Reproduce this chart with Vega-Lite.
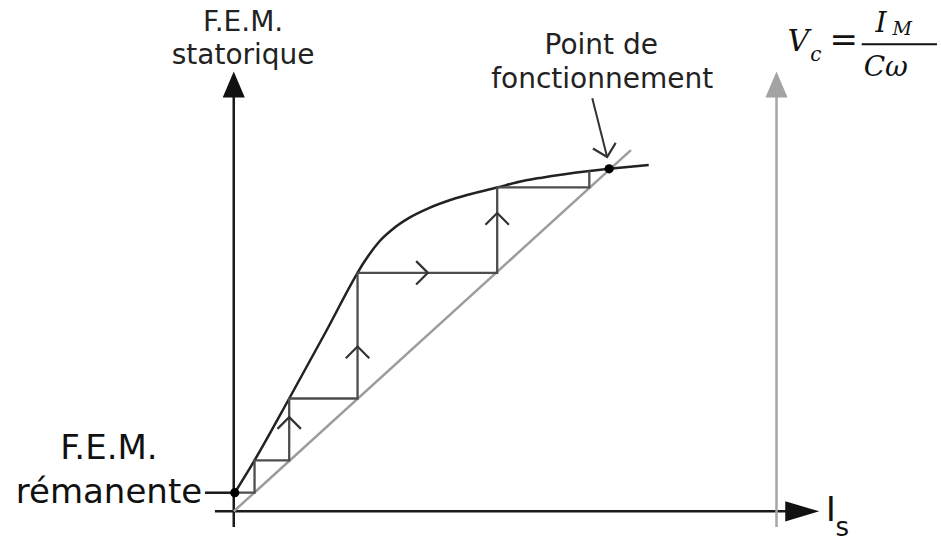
{
  "$schema": "https://vega.github.io/schema/vega-lite/v6.json",
  "width": 941,
  "height": 541,
  "autosize": {"type": "fit", "contains": "padding"},
  "padding": 0,
  "background": "white",
  "config": {"view": {"stroke": null}},
  "encoding": {
    "x": {"field": "x", "type": "quantitative", "scale": {"domain": [-23.6, 70.5], "nice": false, "zero": false}, "axis": null},
    "y": {"field": "y", "type": "quantitative", "scale": {"domain": [-2.0, 52.1], "nice": false, "zero": false}, "axis": null}
  },
  "resolve": {"scale": {"shape": "independent", "color": "independent"}},
  "layer": [
    {
      "data": {"values": [
        {"trait": "ordonnee", "ordre": 1, "x": 0, "y": -1.6},
        {"trait": "ordonnee", "ordre": 2, "x": 0, "y": 42.6},
        {"trait": "abscisse", "ordre": 1, "x": -1.9, "y": 0},
        {"trait": "abscisse", "ordre": 2, "x": 55.9, "y": 0},
        {"trait": "repere", "ordre": 1, "x": -2.9, "y": 1.9},
        {"trait": "repere", "ordre": 2, "x": 0, "y": 1.9}
      ]},
      "mark": {"type": "line", "color": "#1a1a1a", "strokeWidth": 2.5},
      "encoding": {"detail": {"field": "trait"}, "order": {"field": "ordre", "type": "quantitative"}}
    },
    {
      "data": {"values": [
        {"ordre": 1, "x": 54.8, "y": -1.6},
        {"ordre": 2, "x": 54.8, "y": 42.5}
      ]},
      "mark": {"type": "line", "color": "#a6a6a6", "strokeWidth": 2.5},
      "encoding": {"order": {"field": "ordre", "type": "quantitative"}}
    },
    {
      "data": {"values": [
        {"x": 0, "y": 0},
        {"x": 40.1, "y": 36.8}
      ]},
      "mark": {"type": "line", "color": "#9c9c9c", "strokeWidth": 2.5},
      "encoding": {}
    },
    {
      "data": {"values": [
        {"x": 0.1, "y": 1.9},
        {"x": 2.1, "y": 5.2},
        {"x": 5.6, "y": 11.5},
        {"x": 9.3, "y": 18.3},
        {"x": 12.5, "y": 24.3},
        {"x": 13.1, "y": 25.3},
        {"x": 13.7, "y": 26.2},
        {"x": 14.7, "y": 27.5},
        {"x": 16.1, "y": 28.8},
        {"x": 17.7, "y": 29.9},
        {"x": 19.7, "y": 30.9},
        {"x": 22.4, "y": 31.9},
        {"x": 26.6, "y": 33.0},
        {"x": 29.4, "y": 33.7},
        {"x": 31.1, "y": 34.0},
        {"x": 35.7, "y": 34.65},
        {"x": 37.9, "y": 34.9},
        {"x": 41.9, "y": 35.3}
      ]},
      "mark": {"type": "line", "color": "#222222", "strokeWidth": 2.5, "interpolate": "monotone"},
      "encoding": {}
    },
    {
      "data": {"values": [
        {"etape": 1, "x": 0.1, "y": 1.9},
        {"etape": 2, "x": 2.1, "y": 1.9},
        {"etape": 3, "x": 2.1, "y": 5.2},
        {"etape": 4, "x": 5.6, "y": 5.2},
        {"etape": 5, "x": 5.6, "y": 11.5},
        {"etape": 6, "x": 12.5, "y": 11.5},
        {"etape": 7, "x": 12.5, "y": 24.3},
        {"etape": 8, "x": 26.6, "y": 24.3},
        {"etape": 9, "x": 26.6, "y": 33.0},
        {"etape": 10, "x": 35.9, "y": 33.0},
        {"etape": 11, "x": 35.9, "y": 34.7}
      ]},
      "mark": {"type": "line", "color": "#4d4d4d", "strokeWidth": 2.3},
      "encoding": {"order": {"field": "etape", "type": "quantitative"}}
    },
    {
      "data": {"values": [
        {"ordre": 1, "x": 36.2, "y": 42.1},
        {"ordre": 2, "x": 37.7, "y": 36.1}
      ]},
      "mark": {"type": "line", "color": "#333333", "strokeWidth": 2},
      "encoding": {"order": {"field": "ordre", "type": "quantitative"}}
    },
    {
      "data": {"values": [
        {"sens": "haut", "x": 5.6, "y": 9.6},
        {"sens": "haut", "x": 12.5, "y": 16.8},
        {"sens": "haut", "x": 26.6, "y": 30.4},
        {"sens": "droite", "x": 19.6, "y": 24.3},
        {"sens": "bas", "x": 37.7, "y": 36.1}
      ]},
      "mark": {"type": "point", "filled": false, "color": "#333333", "strokeWidth": 2.2, "size": 550, "opacity": 1},
      "encoding": {
        "shape": {"field": "sens", "type": "nominal", "legend": null,
          "scale": {"domain": ["haut", "droite", "bas"], "range": ["M-1,1L0,0L1,1", "M-1,-1L0,0L-1,1", "M-1.21,-0.73L0,0L0.73,-1.21"]}}
      }
    },
    {
      "data": {"values": [
        {"forme": "haut", "axe": "principal", "x": 0, "y": 43.5},
        {"forme": "droite", "axe": "principal", "x": 57.4, "y": 0},
        {"forme": "haut", "axe": "secondaire", "x": 54.8, "y": 43.5}
      ]},
      "mark": {"type": "point", "filled": true, "size": 676, "opacity": 1, "strokeWidth": 0},
      "encoding": {
        "shape": {"field": "forme", "type": "nominal", "legend": null,
          "scale": {"domain": ["haut", "droite"], "range": ["M0,-1L0.85,1L-0.85,1Z", "M1.31,0L-1.31,0.77L-1.31,-0.77Z"]}},
        "color": {"field": "axe", "type": "nominal", "legend": null,
          "scale": {"domain": ["principal", "secondaire"], "range": ["#111111", "#a3a3a3"]}}
      }
    },
    {
      "data": {"values": [
        {"point": "remanent", "x": 0.1, "y": 1.9},
        {"point": "fonctionnement", "x": 37.9, "y": 34.9}
      ]},
      "mark": {"type": "point", "shape": "circle", "filled": true, "size": 85, "color": "#000000", "opacity": 1},
      "encoding": {}
    },
    {
      "data": {"values": [
        {"texte": "F.E.M.", "x": 0.95, "y": 48.9},
        {"texte": "statorique", "x": 0.95, "y": 45.6},
        {"texte": "Point de", "x": 37.1, "y": 46.6},
        {"texte": "fonctionnement", "x": 37.2, "y": 43.1}
      ]},
      "mark": {"type": "text", "font": "DejaVu Sans", "fontSize": 28, "align": "center", "baseline": "alphabetic", "color": "#222222"},
      "encoding": {"text": {"field": "texte"}}
    },
    {
      "data": {"values": [
        {"texte": "F.E.M.", "x": -12.6, "y": 5.3},
        {"texte": "rémanente", "x": -12.6, "y": 0.9}
      ]},
      "mark": {"type": "text", "font": "DejaVu Sans", "fontSize": 34, "align": "center", "baseline": "alphabetic", "color": "#111111"},
      "encoding": {"text": {"field": "texte"}}
    },
    {
      "data": {"values": [{"texte": "I", "x": 59.8, "y": -1.0}]},
      "mark": {"type": "text", "font": "DejaVu Sans", "fontSize": 33, "align": "left", "baseline": "alphabetic", "color": "#111111"},
      "encoding": {"text": {"field": "texte"}}
    },
    {
      "data": {"values": [{"texte": "s", "x": 60.75, "y": -2.5}]},
      "mark": {"type": "text", "font": "DejaVu Sans", "fontSize": 26, "align": "left", "baseline": "alphabetic", "color": "#111111"},
      "encoding": {"text": {"field": "texte"}}
    },
    {
      "data": {"values": [{"texte": "V", "x": 55.9, "y": 46.9}]},
      "mark": {"type": "text", "font": "DejaVu Serif", "fontStyle": "italic", "fontSize": 30, "align": "left", "baseline": "alphabetic", "color": "#111111"},
      "encoding": {"text": {"field": "texte"}}
    },
    {
      "data": {"values": [{"texte": "c", "x": 58.2, "y": 45.9}]},
      "mark": {"type": "text", "font": "DejaVu Serif", "fontStyle": "italic", "fontSize": 20, "align": "left", "baseline": "alphabetic", "color": "#111111"},
      "encoding": {"text": {"field": "texte"}}
    },
    {
      "data": {"values": [{"texte": "=", "x": 61.6, "y": 46.9}]},
      "mark": {"type": "text", "font": "DejaVu Serif", "fontSize": 34, "align": "center", "baseline": "alphabetic", "color": "#111111"},
      "encoding": {"text": {"field": "texte"}}
    },
    {
      "data": {"values": [
        {"ordre": 1, "x": 63.4, "y": 47.6},
        {"ordre": 2, "x": 71.0, "y": 47.6}
      ]},
      "mark": {"type": "line", "color": "#111111", "strokeWidth": 2},
      "encoding": {"order": {"field": "ordre", "type": "quantitative"}}
    },
    {
      "data": {"values": [
        {"texte": "I", "x": 64.8, "y": 48.8},
        {"texte": "Cω", "x": 63.6, "y": 44.4}
      ]},
      "mark": {"type": "text", "font": "DejaVu Serif", "fontStyle": "italic", "fontSize": 28, "align": "left", "baseline": "alphabetic", "color": "#111111"},
      "encoding": {"text": {"field": "texte"}}
    },
    {
      "data": {"values": [{"texte": "M", "x": 66.5, "y": 48.5}]},
      "mark": {"type": "text", "font": "DejaVu Serif", "fontStyle": "italic", "fontSize": 19, "align": "left", "baseline": "alphabetic", "color": "#111111"},
      "encoding": {"text": {"field": "texte"}}
    }
  ]
}
